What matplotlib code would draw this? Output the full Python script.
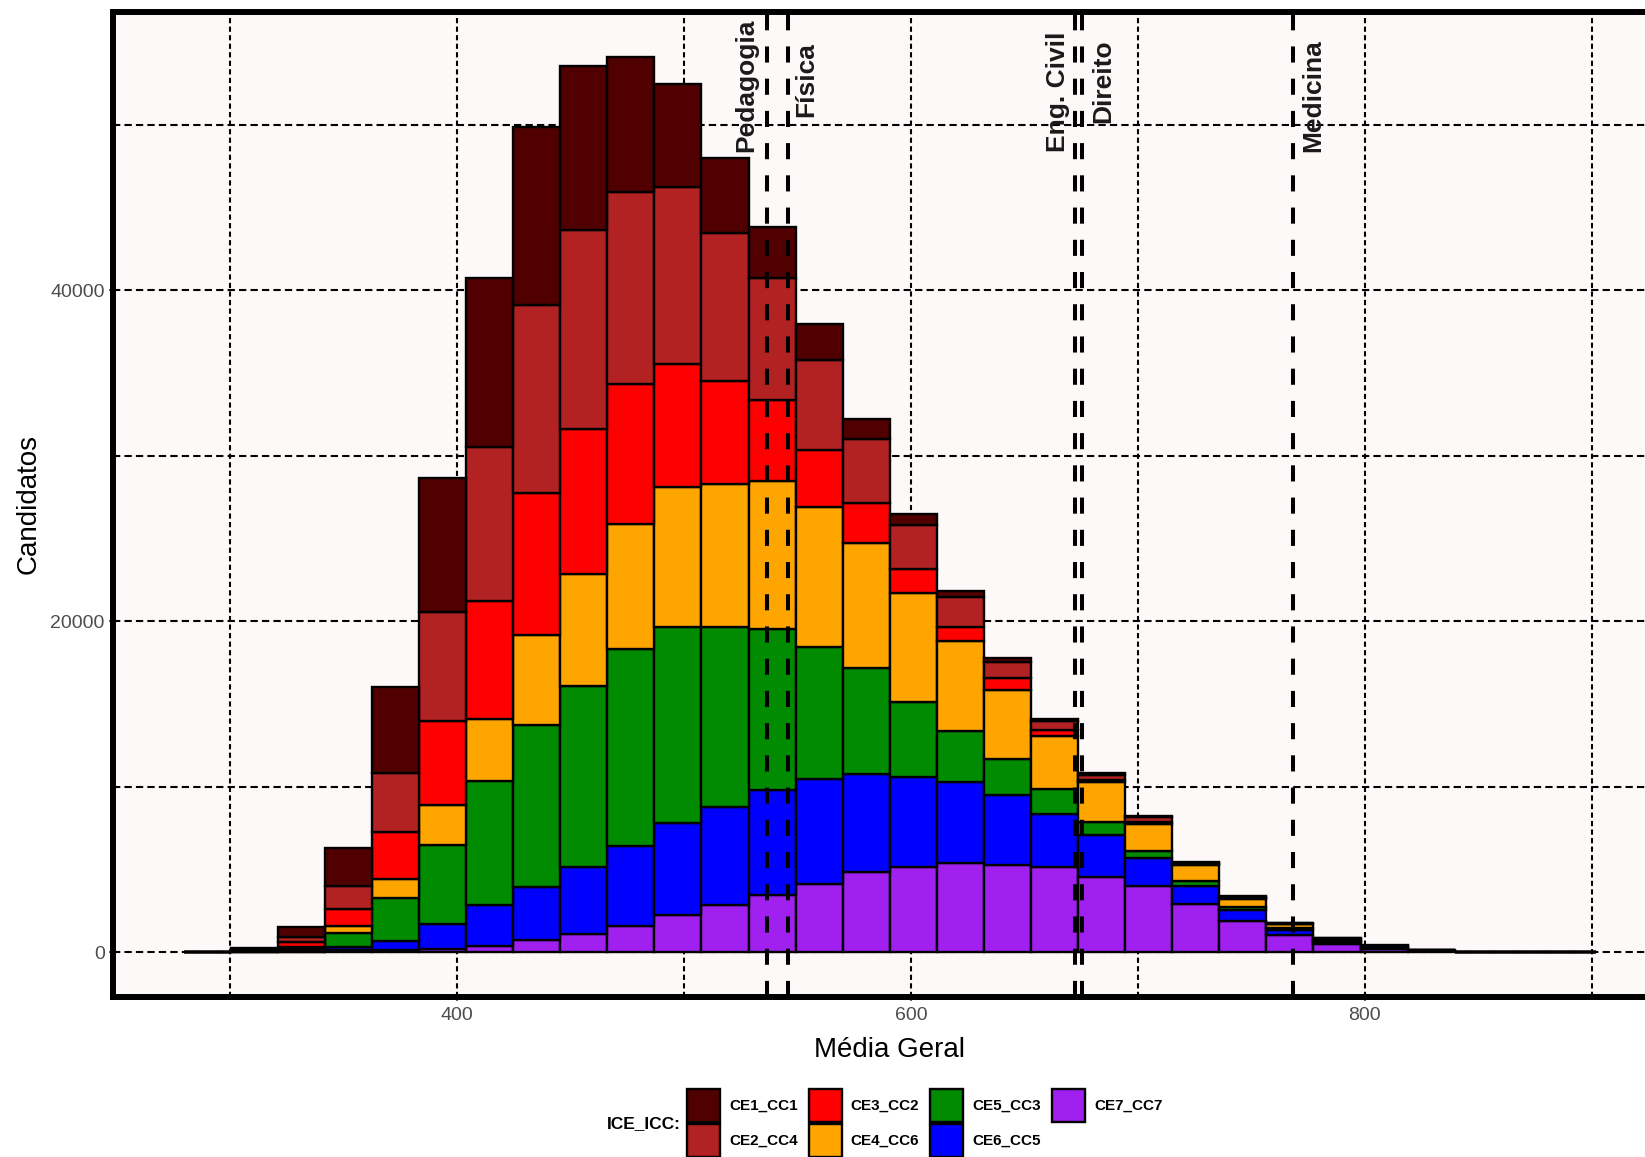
import numpy as np
import matplotlib
matplotlib.use("Agg")
import matplotlib.pyplot as plt

plt.rcParams['font.family'] = ['Liberation Sans', 'DejaVu Sans']

# histogram bins (Média Geral)
bin_start = 279.4
bin_width = 20.75
n_bins = 30

# counts per bin, one list per group
ce1_cc1 = [0, 80, 600, 2300, 5230, 8090, 10210, 10720, 9920, 8180, 6240, 4550, 3090, 2180, 1200,
           650, 360, 210, 150, 120, 70, 50, 60, 30, 30, 20, 12, 0, 0, 0]
ce2_cc4 = [0, 50, 300, 1410, 3580, 6560, 9310, 11370, 12020, 11610, 10670, 8950, 7380, 5430, 3880,
           2640, 1820, 970, 520, 320, 280, 80, 70, 30, 30, 20, 13, 0, 0, 0]
ce3_cc2 = [0, 40, 320, 1005, 2800, 5080, 7130, 8570, 8780, 8470, 7450, 6230, 4870, 3460, 2430,
           1460, 880, 730, 360, 90, 120, 60, 50, 40, 30, 30, 15, 0, 0, 0]
ce4_cc6 = [0, 20, 100, 425, 1200, 2420, 3730, 5440, 6740, 7530, 8460, 8620, 8920, 8490, 7540,
           6600, 5420, 4160, 3220, 2440, 1660, 1000, 470, 200, 110, 50, 20, 0, 0, 0]
ce5_cc3 = [0, 30, 100, 860, 2550, 4800, 7510, 9800, 10970, 11910, 11850, 10900, 9740, 7970, 6390,
           4550, 3080, 2200, 1470, 790, 440, 250, 190, 120, 50, 30, 20, 0, 0, 0]
ce6_cc5 = [0, 20, 60, 185, 585, 1480, 2450, 3230, 4030, 4820, 5550, 5870, 6350, 6300, 5930,
           5420, 4900, 4200, 3220, 2490, 1680, 1090, 675, 340, 150, 90, 30, 0, 0, 0]
ce7_cc7 = [0, 10, 40, 115, 115, 220, 380, 720, 1120, 1600, 2250, 2880, 3470, 4150, 4860,
           5160, 5390, 5300, 5160, 4570, 4000, 2940, 1865, 1020, 480, 180, 50, 0, 0, 0]

groups = ["CE1_CC1", "CE2_CC4", "CE3_CC2", "CE4_CC6", "CE5_CC3", "CE6_CC5", "CE7_CC7"]
group_counts = [ce1_cc1, ce2_cc4, ce3_cc2, ce4_cc6, ce5_cc3, ce6_cc5, ce7_cc7]
group_colors = ["#500000", "#B22222", "#FF0000", "#FFA500", "#008B00", "#0000FF", "#A020F0"]

# cut-off lines per course
courses = ["Pedagogia", "Física", "Eng. Civil", "Direito", "Medicina"]
course_cut = [536.4, 545.9, 672.3, 675.3, 768.3]
label_x = [527.6, 553.8, 664.8, 684.7, 777.2]
label_y = [48350, 50450, 48350, 50100, 48350]

W, H = 1645, 1157
fig = plt.figure(figsize=(W / 100, H / 100), dpi=100)
ax = fig.add_axes([113 / W, 1 - 997 / H, 1553.5 / W, 985 / H])
ax.set_facecolor("#FDF9F8")

edges = bin_start + bin_width * np.arange(n_bins + 1)
bottom = np.zeros(n_bins)
bars = {}
for g, vals, col in reversed(list(zip(groups, group_counts, group_colors))):
    vals = np.array(vals, dtype=float)
    bars[g] = ax.bar(edges[:-1], vals, width=bin_width, align='edge', bottom=bottom,
                     color=col, edgecolor='black', linewidth=1.7, zorder=2)
    bottom += vals

for x in course_cut:
    ax.axvline(x, color='black', linewidth=2.9, linestyle=(0, (4, 4)), zorder=3)
for name, x, y in zip(courses, label_x, label_y):
    ax.text(x, y, name, rotation=90, ha='center', va='bottom', fontsize=19,
            fontweight='bold', color='#1A1A1A', zorder=4)

xr = edges[-1] - edges[0]
ax.set_xlim(edges[0] - 0.05 * xr, edges[-1] + 0.05 * xr)
ymax = bottom.max()
ax.set_ylim(-0.05 * ymax, 1.05 * ymax)

ax.set_xticks([400, 600, 800], labels=['400', '600', '800'])
ax.set_xticks([300, 500, 700, 900], minor=True)
ax.set_yticks([0, 20000, 40000], labels=['0', '20000', '40000'])
ax.set_yticks([10000, 30000, 50000], minor=True)
ax.tick_params(which='major', length=2.9, width=1.1, color='#333333',
               labelsize=14, labelcolor='#4D4D4D', pad=3)
ax.tick_params(axis='x', which='major', pad=4.5)
ax.tick_params(which='minor', length=0)

ax.set_axisbelow(True)
ax.xaxis.grid(True, which='both', color='black', linewidth=1.5, linestyle=(0, (2.5, 1.6)))
ax.yaxis.grid(True, which='both', color='black', linewidth=1.5, linestyle=(0, (3.5, 2)))

for s in ax.spines.values():
    s.set_linewidth(4.3)
    s.set_color('black')

ax.set_xlabel("Média Geral", fontsize=20, labelpad=9)
ax.set_ylabel("Candidatos", fontsize=20, labelpad=6)

handles = [bars[g] for g in groups]
fig.legend(handles, groups, loc='upper left', bbox_to_anchor=(687 / W, 1 - 1089 / H),
           ncol=4, frameon=False, prop={'size': 11, 'weight': 'bold'},
           handlelength=2.16, handleheight=2.95, handletextpad=0.59,
           columnspacing=0.72, labelspacing=0.13, borderpad=0, borderaxespad=0)
fig.text(644 / W, 1 - 1123.6 / H, "ICE_ICC:", ha='center', va='center',
         fontsize=12.5, fontweight='bold')

fig.savefig("out.png", dpi=100)
